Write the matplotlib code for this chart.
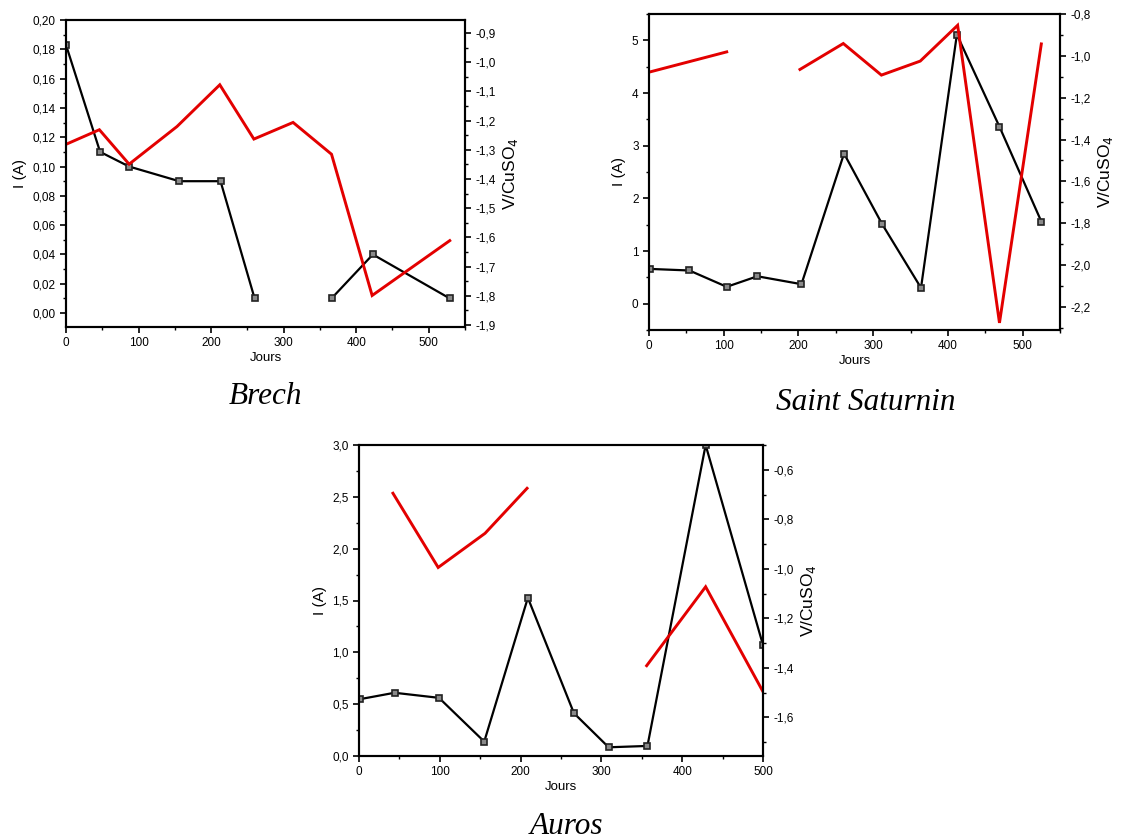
import matplotlib
matplotlib.use('Agg')
import matplotlib.pyplot as plt
from matplotlib.ticker import MultipleLocator, FuncFormatter

plt.rcParams['font.family'] = ['Liberation Sans', 'DejaVu Sans']

# Brech : courant (I) et potentiel (V/CuSO4), par segments continus
brech_i_days = [[0, 47, 87, 156, 213, 260], [366, 423, 529]]
brech_i = [[0.183, 0.110, 0.100, 0.090, 0.090, 0.010], [0.010, 0.040, 0.010]]
brech_v_days = [[0, 46, 87, 153, 212, 259, 313, 366, 422, 529]]
brech_v = [[-1.281, -1.231, -1.349, -1.220, -1.077, -1.263, -1.206, -1.315, -1.799, -1.611]]

# Saint Saturnin
stsat_i_days = [[1, 54, 104, 145, 204, 261, 312, 364, 412, 469, 525]]
stsat_i = [[0.66, 0.63, 0.32, 0.52, 0.37, 2.85, 1.51, 0.30, 5.11, 3.36, 1.56]]
stsat_v_days = [[0, 104], [202, 260, 311, 363, 413, 469, 525]]
stsat_v = [[-1.078, -0.981], [-1.065, -0.941, -1.092, -1.025, -0.854, -2.276, -0.943]]

# Auros
auros_i_days = [[1, 44, 99, 155, 209, 266, 309, 357, 429, 500]]
auros_i = [[0.548, 0.61, 0.561, 0.139, 1.526, 0.413, 0.084, 0.097, 3.0, 1.07]]
auros_v_days = [[42, 98, 156, 208], [356, 429, 500]]
auros_v = [[-0.694, -0.994, -0.856, -0.674], [-1.391, -1.072, -1.496]]

RED = '#e30000'


def comma(dec):
    # virgule décimale, tiret simple pour le signe moins
    return FuncFormatter(lambda v, p: f"{v:.{dec}f}".replace('.', ','))


def panel(rect, i_days, i_vals, v_days, v_vals, xlim, ylim, y2lim, ymaj, ymin, ydec,
          y2maj, y2min, title, title_xy, xmaj=100):
    ax = fig.add_axes(rect)
    ax2 = ax.twinx()
    for d, v in zip(i_days, i_vals):
        ax.plot(d, v, color='black', lw=1.6, marker='s', ms=4.5,
                mfc='#8a8a8a', mec='#222222', mew=1.2, zorder=3)
    for d, v in zip(v_days, v_vals):
        ax2.plot(d, v, color=RED, lw=2.1, solid_joinstyle='miter')
    ax.set_xlim(*xlim)
    ax.set_ylim(*ylim)
    ax2.set_ylim(*y2lim)
    ax.xaxis.set_major_locator(MultipleLocator(xmaj))
    ax.xaxis.set_minor_locator(MultipleLocator(xmaj / 2))
    ax.yaxis.set_major_locator(MultipleLocator(ymaj))
    ax.yaxis.set_minor_locator(MultipleLocator(ymin))
    ax.yaxis.set_major_formatter(comma(ydec))
    ax2.yaxis.set_major_locator(MultipleLocator(y2maj))
    ax2.yaxis.set_minor_locator(MultipleLocator(y2min))
    ax2.yaxis.set_major_formatter(comma(1))
    for a in (ax, ax2):
        a.tick_params(direction='out', labelsize=8.5, width=1.2, length=4)
        a.tick_params(which='minor', direction='out', width=1.0, length=2.5)
        for s in a.spines.values():
            s.set_linewidth(1.5)
    ax.set_xlabel('Jours', fontsize=9.5, labelpad=2)
    ax.set_ylabel('I (A)', fontsize=11)
    ax2.set_ylabel('V/CuSO$_4$', fontsize=12.5)
    fig.text(title_xy[0], title_xy[1], title, ha='center', va='center',
             family='Liberation Serif', style='italic', fontsize=22.5)
    return ax


fig = plt.figure(figsize=(11.23, 8.39), dpi=100)

panel([66 / 1123, 1 - 327 / 839, 399 / 1123, 307 / 839],
      brech_i_days, brech_i, brech_v_days, brech_v,
      (0, 550), (-0.0095, 0.20), (-1.907, -0.855),
      0.02, 0.01, 2, 0.1, 0.05, 'Brech', (265 / 1123, 1 - 397 / 839))

panel([649 / 1123, 1 - 330 / 839, 411 / 1123, 316 / 839],
      stsat_i_days, stsat_i, stsat_v_days, stsat_v,
      (0, 550), (-0.5, 5.5), (-2.31, -0.80),
      1, 0.5, 0, 0.2, 0.1, 'Saint Saturnin', (866 / 1123, 1 - 402 / 839))

panel([359 / 1123, 1 - 756 / 839, 404 / 1123, 311 / 839],
      auros_i_days, auros_i, auros_v_days, auros_v,
      (0, 500), (0, 3.0), (-1.756, -0.499),
      0.5, 0.25, 1, 0.2, 0.1, 'Auros', (566 / 1123, 1 - 826 / 839))

fig.savefig('out.png', dpi=100)
